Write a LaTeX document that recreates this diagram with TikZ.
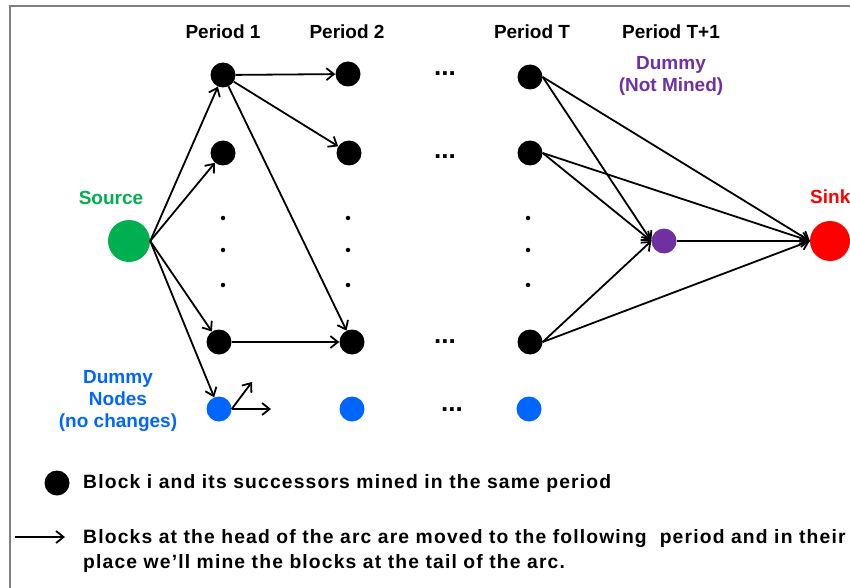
\documentclass[tikz,border=0pt]{standalone}
\usepackage{fontspec}
\setmainfont{Liberation Sans}
\newfontfamily\legendfont[LetterSpace=6]{Liberation Sans}
\usetikzlibrary{arrows.meta}
\definecolor{srcgreen}{HTML}{00B050}
\definecolor{dummyblue}{HTML}{0066FF}
\definecolor{dummypurple}{HTML}{7030A0}
\definecolor{sinkred}{HTML}{FF0000}
\definecolor{framegray}{HTML}{7F7F7F}
\begin{document}
\begin{tikzpicture}[x=1pt,y=-1pt,
  blk/.style={circle,fill=black,inner sep=0pt,minimum size=25pt},
  dmy/.style={circle,fill=dummyblue,inner sep=0pt,minimum size=25pt},
  arc/.style={-{Straight Barb[length=7.5pt,width=12pt]},line width=1.8pt},
  lbl/.style={font=\fontsize{19}{22}\selectfont\bfseries,inner sep=0pt},
  vdot/.style={circle,fill=black,inner sep=0pt,minimum size=4.5pt},
  hdots/.style={font=\fontsize{26}{26}\selectfont\bfseries,inner sep=0pt,anchor=base},
  legend/.style={font=\fontsize{19.3}{22}\selectfont\legendfont\bfseries,inner sep=0pt,anchor=base west}
]
\useasboundingbox (0,0) rectangle (850,588);
\draw[framegray,line width=1.5pt] (10,588) -- (10,6) -- (850,6);

% period headings
\node[lbl] (h1) at (223,32) {Period 1};
\node[lbl] (h2) at (347,32) {Period 2};
\node[lbl] (hT) at (532,32) {Period T};
\node[lbl] (hT1) at (671,32) {Period T+1};

% source and sink
\node[circle,fill=srcgreen,inner sep=0pt,minimum size=42pt] (src) at (129,241) {};
\node[lbl,text=srcgreen] (srclbl) at (111,198) {Source};
\node[circle,fill=sinkred,inner sep=0pt,minimum size=40pt] (snk) at (830,241) {};
\node[lbl,text=sinkred,anchor=west] (snklbl) at (810,197) {Sink};

% period 1
\node[blk] (a1) at (223,75) {};
\node[blk] (a2) at (223,153) {};
\node[blk] (an) at (219,342) {};
\node[dmy] (ad) at (219,409) {};
% period 2
\node[blk] (b1) at (348,74) {};
\node[blk] (b2) at (349,153) {};
\node[blk] (bn) at (352,342) {};
\node[dmy] (bd) at (352,409) {};
% period T
\node[blk] (t1) at (530,77) {};
\node[blk] (t2) at (530,153) {};
\node[blk] (tn) at (530,342) {};
\node[dmy] (td) at (529,409) {};
% period T+1 dummy
\node[circle,fill=dummypurple,inner sep=0pt,minimum size=25pt] (dum) at (664,241) {};
\node[lbl,text=dummypurple,align=center] (dumlbl) at (671,76) {Dummy\\(Not Mined)};

% dummy nodes label
\node[lbl,text=dummyblue,align=center] (dnlbl) at (118,401) {Dummy\\Nodes\\(no changes)};

% vertical dots
\foreach \c/\x in {a/223,b/348,t/528}{
  \node[vdot] (\c v1) at (\x,218) {};
  \node[vdot] (\c v2) at (\x,250) {};
  \node[vdot] (\c v3) at (\x,285) {};
}
% horizontal dots between period 2 and period T
\node[hdots] (e1) at (445,76) {...};
\node[hdots] (e2) at (445,158) {...};
\node[hdots] (e3) at (445,343) {...};
\node[hdots] (e4) at (452,411) {...};

% arcs
\draw[arc] (src.east) -- (a1);
\draw[arc] (src.east) -- (a2);
\draw[arc] (src.east) -- (an);
\draw[arc] (src.east) -- (ad);
\draw[arc] (a1) -- (b1);
\draw[arc] (a1) -- (b2);
\draw[arc] (a1) -- (bn);
\draw[arc] (an) -- (bn);
\coordinate (adu) at (252,382);
\coordinate (adr) at (271,409);
\draw[arc] (ad.east) -- (adu);
\draw[arc] (ad.east) -- (adr);
\draw[arc] (t1.east) -- (dum.west);
\draw[arc] (t1.east) -- (snk.west);
\draw[arc] (t2.east) -- (dum.west);
\draw[arc] (t2.east) -- (snk.west);
\draw[arc] (tn.east) -- (dum.west);
\draw[arc] (tn.east) -- (snk.west);
\draw[arc] (dum.east) -- (snk.west);

% legend
\node[circle,fill=black,inner sep=0pt,minimum size=25pt] (lgdot) at (57,483) {};
\node[legend] (lg1) at (83,488) {Block i and its successors mined in the same period};
\coordinate (lga) at (15,537);
\coordinate (lgb) at (65,537);
\draw[arc] (lga) -- (lgb);
\node[legend] (lg2) at (83,543) {Blocks at the head of the arc are moved to the following\ \ period and in their};
\node[legend] (lg3) at (83,568) {place we’ll mine the blocks at the tail of the arc.};
\end{tikzpicture}
\end{document}
